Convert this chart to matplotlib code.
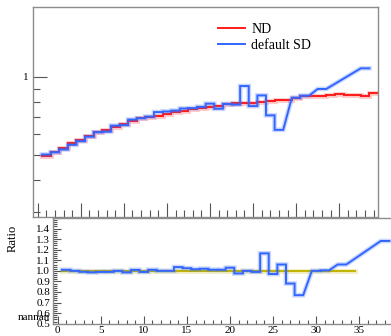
import numpy as np
import matplotlib.pyplot as plt
from matplotlib.ticker import FixedLocator, MultipleLocator, NullFormatter

plt.rcParams['font.family'] = ['Liberation Serif', 'DejaVu Serif']

# bin centres, each bin is 1 wide
bins = list(range(1, 40))

# ND (red)
nd = [0.497, 0.512, 0.530, 0.555, 0.571, 0.594, 0.612, 0.624, 0.643, 0.659,
      0.678, 0.693, 0.703, 0.707, 0.718, 0.731, 0.741, 0.750, 0.759, 0.766,
      0.773, 0.787, 0.790, 0.792, 0.796, 0.801, 0.808, 0.812, 0.818, 0.832,
      0.843, 0.845, 0.848, 0.852, 0.857, 0.852, 0.852, 0.842, 0.871]

# default SD (blue), nan = empty bin
sd = [0.502, 0.512, 0.525, 0.547, 0.565, 0.588, 0.612, 0.615, 0.649, 0.652,
      0.685, 0.693, 0.703, 0.732, 0.736, 0.742, 0.756, 0.758, 0.767, 0.789,
      0.754, 0.787, 0.782, 0.923, 0.772, 0.849, 0.711, 0.625, np.nan, 0.832,
      0.847, np.nan, 0.899, np.nan, np.nan, np.nan, np.nan, 1.080, np.nan]

n_ref = 34  # reference line in ratio panel stops here

red = '#ff1a1a'
blue = '#3366ff'
olive = '#c2b400'
spine_col = '#8c8c8c'


def step_points(centres, values):
    xs, ys = [], []
    for c, v in zip(centres, values):
        if np.isnan(v):
            continue
        xs += [c - 0.5, c + 0.5]
        ys += [v, v]
    return xs, ys


def draw(ax, centres, values, color, label=None):
    xs, ys = step_points(centres, values)
    ax.plot(xs, ys, color=color, lw=3.4, alpha=0.25, solid_joinstyle='miter')
    ax.plot(xs, ys, color=color, lw=1.4, label=label, solid_joinstyle='miter')


nd_arr = np.array(nd)
sd_arr = np.array(sd)
ratio = sd_arr / nd_arr
ref_ratio = nd_arr[:n_ref] / nd_arr[:n_ref]

fig = plt.figure(figsize=(3.91, 3.36), dpi=100)
W, H = 391.0, 336.0
ax1 = fig.add_axes([33 / W, (H - 217) / H, 345 / W, (217 - 7.3) / H])
ax2 = fig.add_axes([53 / W, (H - 323.7) / H, 345 / W, (323.7 - 218) / H])

# top panel
draw(ax1, bins, nd, red, 'ND')
draw(ax1, bins, sd, blue, 'default SD')
ax1.set_yscale('log')
ax1.set_ylim(0.288, 1.858)
ax1.set_xlim(-0.54, 39.5)
ax1.yaxis.set_major_locator(FixedLocator([1.0]))
ax1.yaxis.set_minor_locator(FixedLocator([0.3, 0.4, 0.5, 0.6, 0.7, 0.8, 0.9]))
ax1.yaxis.set_major_formatter(plt.FixedFormatter(['1']))
ax1.yaxis.set_minor_formatter(NullFormatter())
ax1.xaxis.set_major_locator(MultipleLocator(5))
ax1.xaxis.set_minor_locator(MultipleLocator(1))
ax1.tick_params(which='both', direction='in', top=False, right=False,
                labelbottom=False, color='#555555', labelsize=8)
ax1.tick_params(which='major', length=10, width=0.8)
ax1.tick_params(which='minor', length=5, width=0.8)
leg = ax1.legend(loc='upper left', bbox_to_anchor=(218 / W, 1 - 23 / H),
                 bbox_transform=fig.transFigure, frameon=False, fontsize=10,
                 handlelength=1.95, handletextpad=0.45, labelspacing=0.2,
                 borderpad=0, borderaxespad=0)

# ratio panel
draw(ax2, bins[:n_ref], ref_ratio, olive)
draw(ax2, bins, ratio, blue)
ax2.set_ylim(0.5, 1.5)
ax2.set_xlim(-0.54, 39.5)
ax2.yaxis.set_major_locator(MultipleLocator(0.1))
ax2.yaxis.set_minor_locator(MultipleLocator(0.02))
ax2.yaxis.set_major_formatter(plt.FuncFormatter(
    lambda v, p: '' if v > 1.45 else '%.1f' % v))
ax2.xaxis.set_major_locator(MultipleLocator(5))
ax2.xaxis.set_minor_locator(MultipleLocator(1))
ax2.tick_params(which='both', direction='in', top=False, right=False,
                color='#555555', labelsize=8, pad=2)
ax2.tick_params(which='major', length=6, width=0.8)
ax2.tick_params(which='minor', length=3, width=0.8)
ax2.set_ylabel('Ratio', fontsize=9)
ax2.yaxis.set_label_coords(-0.1, 0.81)
ax2.text(-0.01, 0.055, 'nannan', transform=ax2.transAxes, ha='right',
         va='center', fontsize=8)

for ax in (ax1, ax2):
    for s in ax.spines.values():
        s.set_color(spine_col)
        s.set_linewidth(1.0)

fig.savefig('out.png', dpi=100)
